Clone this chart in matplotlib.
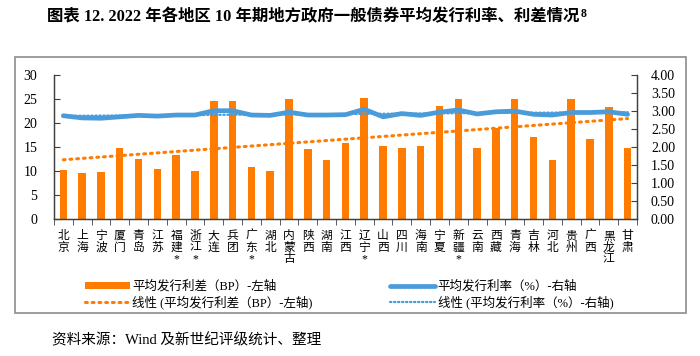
import numpy as np
import matplotlib
matplotlib.use("Agg")
import matplotlib.pyplot as plt
from matplotlib.patches import Rectangle
from matplotlib.ticker import FormatStrFormatter

plt.rcParams['font.family'] = ['Liberation Serif', 'Noto Sans CJK SC']

regions = ["北京", "上海", "宁波", "厦门", "青岛", "江苏", "福建*", "浙江*", "大连", "兵团",
           "广东*", "湖北", "内蒙古", "陕西", "湖南", "江西", "辽宁*", "山西", "四川", "海南",
           "宁夏", "新疆*", "云南", "西藏", "青海", "吉林", "河北", "贵州", "广西", "黑龙江", "甘肃"]
spread_bp = [10.3, 9.5, 9.8, 14.9, 12.6, 10.5, 13.4, 9.9, 24.7, 24.6,
             10.9, 10.0, 25.1, 14.6, 12.3, 15.8, 25.2, 15.3, 14.8, 15.3,
             23.5, 25.0, 14.7, 19.0, 25.0, 17.1, 12.3, 25.1, 16.6, 23.3, 14.7]
rate_pct = [2.87, 2.81, 2.80, 2.84, 2.88, 2.86, 2.89, 2.89, 3.01, 3.01,
            2.89, 2.88, 2.97, 2.89, 2.89, 2.90, 3.05, 2.84, 2.93, 2.88,
            2.97, 3.03, 2.92, 2.98, 3.00, 2.91, 2.89, 2.96, 2.96, 2.98, 2.91]

orange = '#FF7C00'
blue = '#4A9BDA'

x = np.arange(len(regions))
labels = ["\n".join(r) for r in regions]

# Excel style linear trendlines
k1, b1 = np.polyfit(x, spread_bp, 1)
k2, b2 = np.polyfit(x, rate_pct, 1)

fig = plt.figure(figsize=(7, 3.56), dpi=100)
ax1 = fig.add_axes([0.077, 0.385, 0.833, 0.404])
ax2 = ax1.twinx()

tr1, = ax1.plot(x, k1 * x + b1, color=orange, lw=2.2, ls=(0, (0.6, 1.6)),
                dash_capstyle='round', zorder=1)
bars = ax1.bar(x, spread_bp, width=0.4, color=orange, zorder=2)
tr2, = ax2.plot(x, k2 * x + b2, color=blue, lw=1.6, ls=(0, (0.6, 1.2)),
                dash_capstyle='round', zorder=3)
ln, = ax2.plot(x, rate_pct, color=blue, lw=3.4, zorder=4, solid_capstyle='round')

ax1.set_xlim(-0.5, len(regions) - 0.5)
ax1.set_ylim(0, 30)
ax1.set_yticks(np.arange(0, 31, 5))
ax2.set_ylim(0, 4)
ax2.set_yticks(np.arange(0, 4.01, 0.5))
ax2.yaxis.set_major_formatter(FormatStrFormatter('%.2f'))

ax1.set_xticks(x)
ax1.set_xticklabels(labels, fontsize=8.5, linespacing=0.95, va='top')
ax1.set_xticks(np.arange(-0.5, len(regions), 1), minor=True)
ax1.tick_params(axis='x', which='major', length=0, pad=8)
ax1.tick_params(axis='x', which='minor', length=4, direction='out', color='#404040')
ax1.tick_params(axis='y', direction='in', length=4, pad=12, labelsize=10, color='#404040')
ax2.tick_params(axis='y', direction='in', length=4, pad=10, labelsize=10, color='#404040')

for ax in (ax1, ax2):
    ax.spines['top'].set_visible(False)
    for s in ('left', 'right', 'bottom'):
        ax.spines[s].set_color('#404040')
        ax.spines[s].set_linewidth(0.9)

ax1.set_zorder(1)
ax2.set_zorder(2)
ax1.patch.set_visible(False)

fig.legend([bars, tr1, ln, tr2],
           ["平均发行利差（BP）-左轴", "线性 (平均发行利差（BP）-左轴)",
            "平均发行利率（%）-右轴", "线性 (平均发行利率（%）-右轴)"],
           ncol=2, loc='upper left', bbox_to_anchor=(0.105, 0.245),
           frameon=False, fontsize=9, handlelength=3.6, handleheight=0.5,
           columnspacing=6.2, handletextpad=0.2, labelspacing=0.2)

fig.patches.append(Rectangle((0.021, 0.121), 0.959, 0.719, transform=fig.transFigure,
                             fill=False, edgecolor='#8C8C8C', lw=1.2))

title = fig.text(0.067, 0.952, "图表 12. 2022 年各地区 10 年期地方政府一般债券平均发行利率、利差情况",
                 fontsize=11.8, fontweight='bold', va='center', ha='left')
fig.canvas.draw()
bb = title.get_window_extent()
fig.text(bb.x1 + 1, bb.y1 + 1, "8", fontsize=8.5, fontweight='bold',
         va='top', ha='left', transform=None)
fig.text(0.074, 0.045, "资料来源：Wind 及新世纪评级统计、整理", fontsize=10.5, va='center', ha='left')

fig.savefig("out.png", dpi=100)
